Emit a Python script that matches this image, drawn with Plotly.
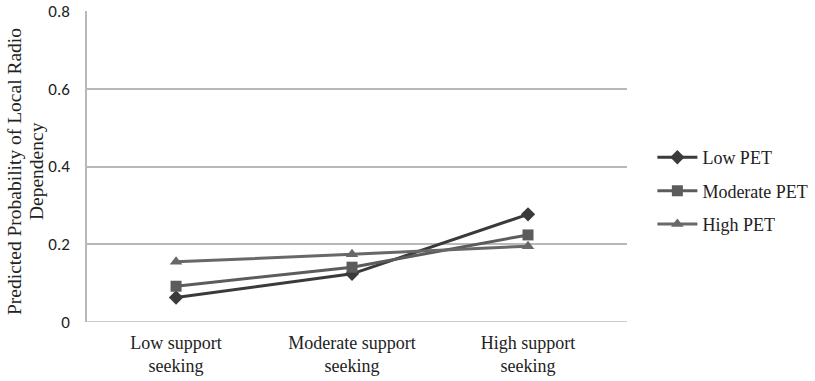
import plotly.graph_objects as go

categories = ["Low support<br>seeking", "Moderate support<br>seeking", "High support<br>seeking"]
low_pet = [0.063, 0.124, 0.277]
moderate_pet = [0.092, 0.141, 0.224]
high_pet = [0.155, 0.174, 0.195]
y_ticks = [0, 0.2, 0.4, 0.6, 0.8]
y_tick_labels = ["0", "0.2", "0.4", "0.6", "0.8"]
y_title_lines = ["Predicted Probability of Local Radio", "Dependency"]

serif = "Liberation Serif, Times New Roman, serif"
sans = "Carlito, Liberation Sans, Arial, sans-serif"

fig = go.Figure()
series = [
    ("Low PET", low_pet, "#3a3a3a", "diamond", 11),
    ("Moderate PET", moderate_pet, "#5c5c5c", "square", 11),
    ("High PET", high_pet, "#686868", "triangle-up", 11),
]
for name, vals, col, sym, sz in series:
    fig.add_trace(go.Scatter(
        x=list(range(len(categories))), y=vals, name=name, mode="lines+markers",
        legendgroup=name,
        line=dict(color=col, width=3),
        marker=dict(symbol=sym, size=sz, color=col),
    ))

fig.update_layout(
    width=815, height=381,
    margin=dict(l=87, r=188, t=11, b=59, autoexpand=False),
    plot_bgcolor="white", paper_bgcolor="white",
    showlegend=True,
    legend=dict(x=1.047, y=0.421, xanchor="left", yanchor="middle",
                font=dict(family=serif, size=18, color="#222"),
                tracegroupgap=7, itemwidth=40, bgcolor="rgba(0,0,0,0)"),
    xaxis=dict(
        tickmode="array", tickvals=list(range(len(categories))), ticktext=categories,
        range=[-0.506, 2.5625], showgrid=False, zeroline=False,
        showline=False, ticks="", automargin=False, ticklabelstandoff=8,
        tickfont=dict(family=serif, size=18, color="#222"),
    ),
    yaxis=dict(
        range=[0, 0.8], tickmode="array", tickvals=y_ticks, ticktext=y_tick_labels,
        showgrid=True, gridcolor="#b8b8b8", gridwidth=1.5,
        zeroline=False, showline=True, linecolor="#b8b8b8", linewidth=1.5,
        ticks="", ticklabelstandoff=12, automargin=False,
        tickfont=dict(family=sans, size=17, color="#222"),
    ),
)
# y-axis title as two rotated lines (tight line spacing like the original)
for xpos, line in zip([-0.1352, -0.0944], y_title_lines):
    fig.add_annotation(text=line, xref="paper", yref="paper", x=xpos, y=0.4855,
                       xanchor="center", yanchor="middle", textangle=-90,
                       showarrow=False, font=dict(family=serif, size=19.5, color="#222"))
# bottom axis line
fig.add_shape(type="line", xref="paper", yref="y", x0=0, x1=1, y0=0, y1=0,
              line=dict(color="#b8b8b8", width=1.5), layer="below")

fig.write_html("out.html", config={"displayModeBar": False},
               post_script="document.body.style.margin='0';")
